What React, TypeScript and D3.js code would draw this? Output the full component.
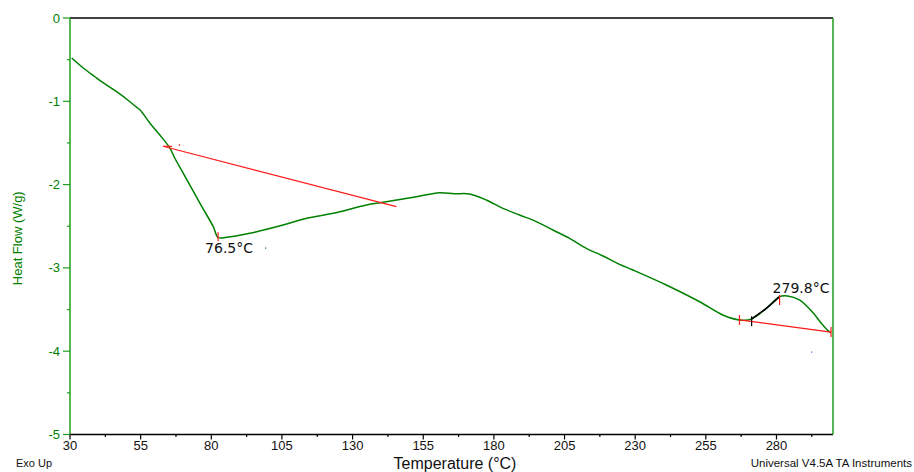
import React from 'react';
import * as d3 from 'd3';

// DSC curve (temperature °C, heat flow W/g)
const temperature = [
  30.6, 34.7, 38.8, 41.2, 46.5, 51.2, 53.0, 54.8, 58.3, 61.8, 65.4, 67.1, 70.1,
  76.0, 80.7, 82.4, 85.4, 93.6, 105.4, 113.7, 123.1, 134.9, 140.8, 152.6, 160.8,
  166.0, 171.4, 177.3, 183.2, 189.1, 195.0, 200.9, 206.8, 212.7, 218.6, 224.5,
  229.2, 241.0, 252.8, 261.0, 266.9, 271.2, 276.4, 281.1, 283.9, 288.1, 292.7,
  296.0, 298.0, 299.3,
];
const heatFlow = [
  -0.48, -0.6, -0.705, -0.765, -0.885, -1.005, -1.056, -1.104, -1.264, -1.405,
  -1.564, -1.684, -1.864, -2.225, -2.505, -2.633, -2.633, -2.585, -2.485, -2.405,
  -2.345, -2.245, -2.213, -2.145, -2.097, -2.11, -2.113, -2.185, -2.285, -2.365,
  -2.445, -2.545, -2.645, -2.765, -2.857, -2.957, -3.025, -3.205, -3.406, -3.565,
  -3.625, -3.613, -3.485, -3.345, -3.337, -3.385, -3.53, -3.67, -3.745, -3.78,
];

// analysis marks
const tangentT = [62.9, 145.5];
const tangentV = [-1.54, -2.265];
const baselineT = [266.9, 299.3];
const baselineV = [-3.625, -3.77];
const onsetRange = [271.2, 281.1]; // black segment of curve
const peak1 = { t: 82.4, v: -2.633, label: '76.5°C' };
const peak2 = { t: 281.1, v: -3.385, label: '279.8°C' };

const xTicks = [30, 55, 80, 105, 130, 155, 180, 205, 230, 255, 280];
const yTicks = [0, -1, -2, -3, -4, -5];

const W = 914;
const H = 472;
const green = '#008000';
const axisGreen = '#1f9f1f';
const red = '#ff1a1a';

export default function App() {
  const x = d3.scaleLinear().domain([30, 300]).range([70, 833]);
  const y = d3.scaleLinear().domain([0, -5]).range([18, 434.5]);

  const pts: [number, number][] = temperature.map((t, i) => [t, heatFlow[i]]);
  const line = d3
    .line<[number, number]>()
    .x((d) => x(d[0]))
    .y((d) => y(d[1]))
    .curve(d3.curveCatmullRom.alpha(0.5));

  const onsetPts = pts.filter((d) => d[0] >= onsetRange[0] && d[0] <= onsetRange[1]);

  const xMinor = xTicks.map((t) => t + 12.5).filter((t) => t < 300);
  const yMinor = yTicks.slice(1).map((v) => v + 0.5);

  const font = 'Arial, "Liberation Sans", sans-serif';
  const labelFont = '"DejaVu Sans", Verdana, sans-serif';

  return (
    <svg
      width={W}
      height={H}
      style={{ position: 'absolute', left: 0, top: 0, background: '#fff' }}
      fontFamily={font}
    >
      {/* frame */}
      <line x1={70} x2={833} y1={y(0)} y2={y(0)} stroke="#000" strokeWidth={1.5} />
      <line x1={70} x2={833} y1={y(-5)} y2={y(-5)} stroke="#000" strokeWidth={1.5} />
      <line x1={833} x2={833} y1={y(0)} y2={y(-5)} stroke={axisGreen} strokeWidth={1.5} />
      <line x1={70} x2={70} y1={y(0)} y2={y(-5)} stroke={axisGreen} strokeWidth={1.5} />

      {/* y axis */}
      {yTicks.map((v) => (
        <g key={v}>
          <line x1={63} x2={70} y1={y(v)} y2={y(v)} stroke={axisGreen} strokeWidth={1.2} />
          <text x={60} y={y(v)} dy="0.35em" textAnchor="end" fontSize={13} fill={green}>
            {v === 0 ? '0' : '-' + Math.abs(v)}
          </text>
        </g>
      ))}
      {yMinor.map((v) => (
        <line key={v} x1={67} x2={70} y1={y(v)} y2={y(v)} stroke={axisGreen} strokeWidth={1.2} />
      ))}
      <text
        transform={`translate(22,${(y(0) + y(-5)) / 2 + 12}) rotate(-90)`}
        textAnchor="middle"
        fontSize={13}
        fill={green}
      >
        Heat Flow (W/g)
      </text>

      {/* x axis */}
      {xTicks.map((t) => (
        <g key={t}>
          <line x1={x(t)} x2={x(t)} y1={y(-5)} y2={y(-5) + 5} stroke="#000" strokeWidth={1.2} />
          <text x={x(t)} y={450} textAnchor="middle" fontSize={13} fill="#111">
            {t}
          </text>
        </g>
      ))}
      {xMinor.map((t) => (
        <line key={t} x1={x(t)} x2={x(t)} y1={y(-5)} y2={y(-5) + 2.5} stroke="#000" strokeWidth={1.2} />
      ))}
      <text x={455} y={469} textAnchor="middle" fontSize={16} fill="#111">
        Temperature (°C)
      </text>
      <text x={16} y={467} fontSize={11} fill="#111">
        Exo Up
      </text>
      <text x={912} y={467} textAnchor="end" fontSize={11.5} fill="#111">
        Universal V4.5A TA Instruments
      </text>

      {/* curve */}
      <path d={line(pts) ?? ''} fill="none" stroke={green} strokeWidth={1.5} strokeLinejoin="round" />
      <path d={line(onsetPts) ?? ''} fill="none" stroke="#000" strokeWidth={1.6} />

      {/* tangent analysis */}
      <line
        x1={x(tangentT[0])}
        x2={x(tangentT[1])}
        y1={y(tangentV[0])}
        y2={y(tangentV[1])}
        stroke={red}
        strokeWidth={1.2}
      />
      <line
        x1={x(tangentT[0])}
        x2={x(tangentT[0]) + 9}
        y1={y(tangentV[0])}
        y2={y(tangentV[0])}
        stroke={red}
        strokeWidth={1.2}
      />
      <rect x={x(68.5)} y={y(-1.525) - 0.7} width={1.4} height={1.4} fill={red} />
      <line
        x1={x(peak1.t)}
        x2={x(peak1.t)}
        y1={y(peak1.v) - 5}
        y2={y(peak1.v) + 4}
        stroke={red}
        strokeWidth={1.2}
      />
      <text x={x(peak1.t) - 13} y={y(peak1.v) + 16} fontSize={14} fontFamily={labelFont} fill="#111">
        {peak1.label}
      </text>
      <rect x={265} y={247.5} width={1.2} height={1.2} fill={green} />

      {/* melting peak analysis */}
      <line
        x1={x(baselineT[0])}
        x2={x(baselineT[1])}
        y1={y(baselineV[0])}
        y2={y(baselineV[1])}
        stroke={red}
        strokeWidth={1.3}
      />
      {baselineT.map((t, i) => (
        <line
          key={t}
          x1={x(t)}
          x2={x(t)}
          y1={y(baselineV[i]) - 5}
          y2={y(baselineV[i]) + 5}
          stroke={red}
          strokeWidth={1.2}
        />
      ))}
      <line
        x1={x(onsetRange[0])}
        x2={x(onsetRange[0])}
        y1={y(-3.64) - 5}
        y2={y(-3.64) + 5}
        stroke="#000"
        strokeWidth={1.2}
      />
      <line
        x1={x(peak2.t)}
        x2={x(peak2.t)}
        y1={y(peak2.v) - 5}
        y2={y(peak2.v) + 5}
        stroke={red}
        strokeWidth={1.2}
      />
      <text x={x(peak2.t) - 7} y={y(peak2.v) - 7} fontSize={14} fontFamily={labelFont} fill="#111">
        {peak2.label}
      </text>
      <rect x={811} y={351.5} width={1.2} height={1.2} fill="#3a6fd8" />
    </svg>
  );
}
